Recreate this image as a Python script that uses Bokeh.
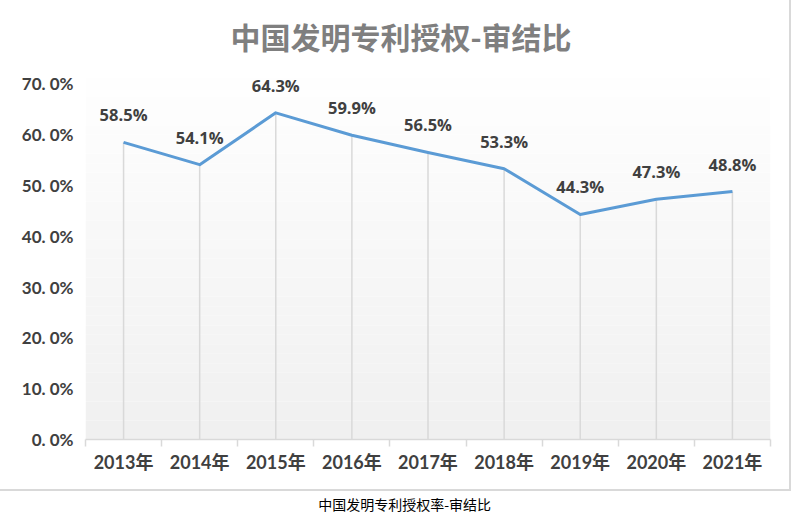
import numpy as np
from bokeh.plotting import figure
from bokeh.layouts import column
from bokeh.models import FixedTicker, Title
from bokeh.core.properties import value
from bokeh.embed import file_html
from bokeh.resources import INLINE

years = ["2013年", "2014年", "2015年", "2016年", "2017年", "2018年", "2019年", "2020年", "2021年"]
rates = [58.5, 54.1, 64.3, 59.9, 56.5, 53.3, 44.3, 47.3, 48.8]
rate_labels = ["58.5%", "54.1%", "64.3%", "59.9%", "56.5%", "53.3%", "44.3%", "47.3%", "48.8%"]
y_ticks = [0, 10, 20, 30, 40, 50, 60, 70]
y_tick_labels = ["0. 0%", "10. 0%", "20. 0%", "30. 0%", "40. 0%", "50. 0%", "60. 0%", "70. 0%"]
title_text = "中国发明专利授权-审结比"
caption_text = "中国发明专利授权率-审结比"

n = len(years)
xs = [i + 0.5 for i in range(n)]
bounds = [float(i) for i in range(n + 1)]
Y_TOP = 75
W, H = 789, 489

p = figure(width=W, height=H, x_range=(0, n), y_range=(0, Y_TOP),
           output_backend="svg", toolbar_location=None,
           min_border_left=85, min_border_right=19, min_border_top=58, min_border_bottom=50)
p.styles = {"box-shadow": "0 0 0 2px #d9d9d9"}
p.outline_line_color = None
p.background_fill_color = "white"
p.border_fill_color = "white"
p.xgrid.visible = False
p.ygrid.visible = False

t = Title(text=title_text, align="left", text_font="Noto Sans CJK SC",
          text_font_size="30px", text_color="#7f7f7f", text_font_style="bold",
          standoff=2, offset=145)
p.add_layout(t, "above")

# background gradient (white at top to light grey at bottom)
nb = 40
edges = np.linspace(0, Y_TOP, nb + 1)
cols = []
for i in range(nb):
    f = i / (nb - 1)
    g = int(round(240 + (255 - 240) * f))
    cols.append("#%02x%02x%02x" % (g, g, g))
p.quad(left=0, right=n, bottom=edges[:-1], top=edges[1:], fill_color=cols, line_color=None)

# drop lines
p.segment(x0=xs, y0=[0] * n, x1=xs, y1=rates, line_color="#d9d9d9", line_width=1.5)

# the line
p.line(xs, rates, line_color="#5b9bd5", line_width=3, line_join="round")

# data labels
p.text(x=xs, y=rates, text=rate_labels, text_align="center", text_baseline="bottom",
       y_offset=-16, text_font=value("Open Sans"), text_font_style="bold",
       text_font_size="16.5px", text_color="#404040")

# x axis
xa = p.xaxis[0]
xa.ticker = FixedTicker(ticks=xs, minor_ticks=bounds)
xa.major_label_overrides = {x: y for x, y in zip(xs, years)}
xa.major_tick_line_color = None
xa.major_tick_out = 0
xa.major_tick_in = 0
xa.minor_tick_line_color = "#d9d9d9"
xa.minor_tick_line_width = 1.5
xa.minor_tick_in = 0
xa.minor_tick_out = 7
xa.axis_line_color = "#d9d9d9"
xa.axis_line_width = 1.5
xa.major_label_text_font = "Lato, Noto Sans CJK SC"
xa.major_label_text_font_style = "bold"
xa.major_label_text_font_size = "18px"
xa.major_label_text_color = "#404040"
xa.major_label_standoff = 4

# y axis
ya = p.yaxis[0]
ya.ticker = FixedTicker(ticks=y_ticks)
ya.major_label_overrides = {v: s for v, s in zip(y_ticks, y_tick_labels)}
ya.major_tick_line_color = None
ya.major_tick_out = 0
ya.major_tick_in = 0
ya.minor_tick_line_color = None
ya.axis_line_color = None
ya.major_label_text_font = "Lato"
ya.major_label_text_font_style = "bold"
ya.major_label_text_font_size = "17px"
ya.major_label_text_color = "#404040"
ya.major_label_standoff = 12

# caption
c = figure(width=W, height=22, x_range=(0, W), y_range=(0, 1),
           output_backend="svg", toolbar_location=None,
           x_axis_location=None, y_axis_location=None, min_border=0)
c.grid.visible = False
c.outline_line_color = None
c.text(x=[W / 2 - 27], y=[0.5], text=[caption_text], text_align="center", text_baseline="middle",
       text_font=value("Noto Sans CJK SC"), text_font_size="14px", text_color="#000000")

layout = column(p, c, spacing=3)
open("out.html", "w").write(file_html(layout, INLINE))
